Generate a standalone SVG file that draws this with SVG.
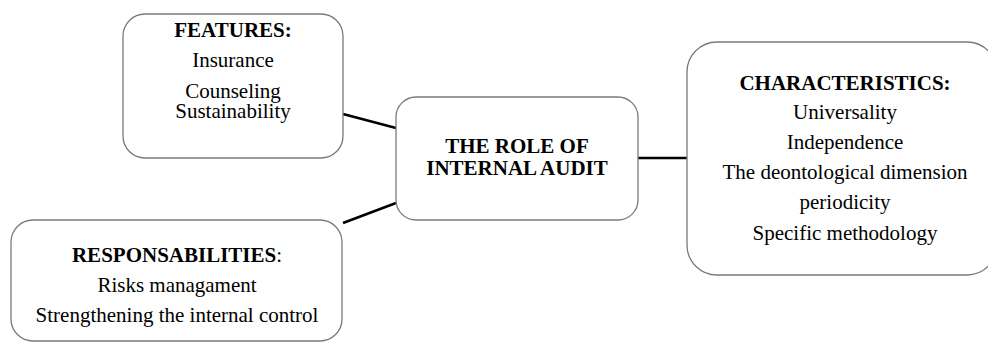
<svg xmlns="http://www.w3.org/2000/svg" width="988" height="345" viewBox="0 0 988 345">
<style>
.box{fill:#ffffff;stroke:#7a7a7a;stroke-width:1.3}
.conn{stroke:#000000;stroke-width:2.6;fill:none}
text{font-family:"Liberation Serif","Times New Roman",serif;font-size:21px;fill:#000000;text-anchor:middle}
.b{font-weight:bold}
</style>
<rect width="988" height="345" fill="#ffffff"/>
<g id="connectors">
<line class="conn" x1="343" y1="114" x2="396" y2="128"/>
<line class="conn" x1="396" y1="203" x2="343" y2="223"/>
<line class="conn" x1="638" y1="158" x2="687" y2="158"/>
</g>
<g id="features">
<rect class="box" x="123" y="14" width="220" height="144" rx="22" ry="22"/>
<text x="233" y="37" class="b">FEATURES:</text>
<text x="233" y="67">Insurance</text>
<text x="233" y="98">Counseling</text>
<text x="233" y="118">Sustainability</text>
</g>
<g id="role">
<rect class="box" x="396" y="97" width="242" height="123" rx="20" ry="20"/>
<text x="517" y="153" class="b">THE ROLE OF</text>
<text x="517" y="175" class="b">INTERNAL AUDIT</text>
</g>
<g id="characteristics">
<rect class="box" x="687" y="42" width="310" height="233" rx="30" ry="30"/>
<text x="845" y="90" class="b">CHARACTERISTICS:</text>
<text x="845" y="119">Universality</text>
<text x="845" y="149">Independence</text>
<text x="845" y="179">The deontological dimension</text>
<text x="845" y="209">periodicity</text>
<text x="845" y="240">Specific methodology</text>
</g>
<g id="responsabilities">
<rect class="box" x="11" y="220" width="331" height="121" rx="22" ry="22"/>
<text x="177" y="262"><tspan class="b">RESPONSABILITIES</tspan>:</text>
<text x="177" y="292">Risks managament</text>
<text x="177" y="322">Strengthening the internal control</text>
</g>
</svg>
